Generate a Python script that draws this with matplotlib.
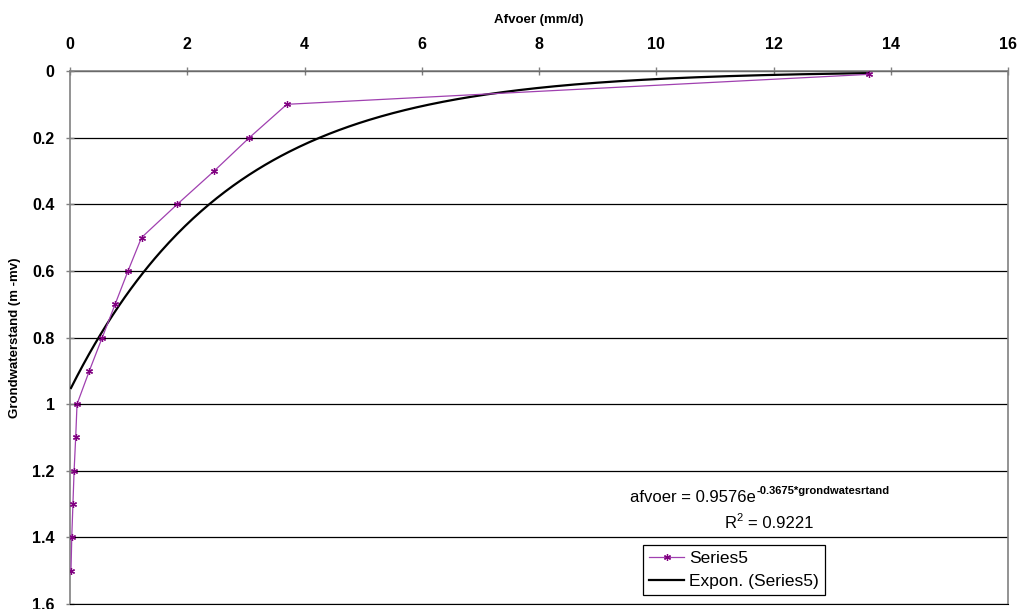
import numpy as np
import matplotlib
matplotlib.use("Agg")
import matplotlib.pyplot as plt
from matplotlib.ticker import FuncFormatter

plt.rcParams['font.family'] = ['Liberation Sans', 'DejaVu Sans']

# Data
afvoer = [13.63, 3.70, 3.06, 2.46, 1.83, 1.22, 0.99, 0.77, 0.55, 0.33, 0.12, 0.097, 0.07, 0.05, 0.03, 0.017]
grondwaterstand = [0.01, 0.1, 0.2, 0.3, 0.4, 0.5, 0.6, 0.7, 0.8, 0.9, 1.0, 1.1, 1.2, 1.3, 1.4, 1.5]
# Exponential trendline coefficients (as shown on the chart)
fit_a = 0.9576
fit_b = -0.3675
r2 = 0.9221
x_ticks = [0, 2, 4, 6, 8, 10, 12, 14, 16]
y_ticks = [0, 0.2, 0.4, 0.6, 0.8, 1.0, 1.2, 1.4, 1.6]

fig = plt.figure(figsize=(10.18, 6.09), dpi=100)
ax = fig.add_axes([70/1018, 1-604/609, (1008-70)/1018, (604-71)/609])

xs = np.linspace(min(afvoer), max(afvoer), 400)
ax.plot(xs, fit_a*np.exp(fit_b*xs), color='black', lw=1.6, zorder=3, label='Expon. (Series5)')
ax.plot(afvoer, grondwaterstand, color='#a040b0', lw=0.9, marker=(6, 2, 0), ms=5,
        mec='#800080', mew=0.9, zorder=4, label='Series5')

ax.set_xlim(0, 16)
ax.set_ylim(1.6, 0)
ax.set_xticks(x_ticks)
ax.set_yticks(y_ticks)
ax.yaxis.set_major_formatter(FuncFormatter(lambda v, p: f"{v:g}"))
ax.xaxis.tick_top()
ax.xaxis.set_label_position('top')
ax.tick_params(axis='both', direction='inout', length=6, width=1, color='#808080',
               labelsize=11.5)
for lab in ax.get_xticklabels() + ax.get_yticklabels():
    lab.set_fontweight('bold')
ax.tick_params(axis='x', pad=11)
ax.tick_params(axis='y', pad=8)

ax.set_xlabel('Afvoer (mm/d)', fontsize=9.5, fontweight='bold', labelpad=10)
ax.set_ylabel('Grondwaterstand (m -mv)', fontsize=9.5, fontweight='bold', labelpad=8)

ax.grid(axis='y', color='black', lw=0.9)
ax.grid(axis='x', visible=False)
ax.set_axisbelow(True)
for s in ['left', 'top', 'right']:
    ax.spines[s].set_color('#808080')
    ax.spines[s].set_linewidth(1.2)
ax.spines['bottom'].set_color('black')

main = ax.text(9.56, 1.294, 'afvoer = 0.9576e', fontsize=12, ha='left', va='baseline')
ax.annotate('-0.3675*grondwatesrtand', xy=(1.0, 0.62), xycoords=main,
            fontsize=8, fontweight='bold', ha='left', va='bottom')
r2txt = ax.text(11.16, 1.372, 'R', fontsize=12, ha='left', va='baseline')
sup2 = ax.annotate('2', xy=(1.0, 0.55), xycoords=r2txt, fontsize=8, ha='left', va='bottom')
ax.annotate(f'= {r2}', xy=(1.0, 0.0), xycoords=r2txt, xytext=(8.5, 0),
            textcoords='offset points', fontsize=12, ha='left', va='bottom')

h, l = ax.get_legend_handles_labels()
leg = ax.legend(h[::-1], l[::-1], loc='lower left', bbox_to_anchor=(0.611, 0.017),
                borderaxespad=0, fancybox=False, framealpha=1, edgecolor='black',
                fontsize=12.5, handlelength=2.0, borderpad=0.35, labelspacing=0.45,
                handletextpad=0.3)
leg.get_frame().set_linewidth(0.9)

fig.savefig('out.png', dpi=100)
